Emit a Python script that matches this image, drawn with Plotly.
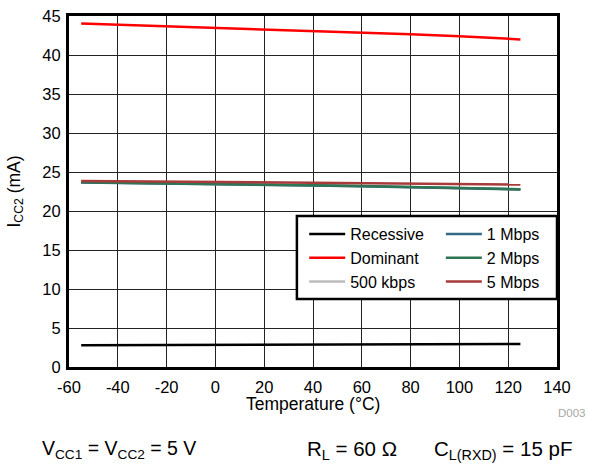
import plotly.graph_objects as go

temps = [-55, -40, -20, 0, 20, 40, 60, 80, 100, 125]
recessive = [2.80, 2.82, 2.84, 2.86, 2.88, 2.90, 2.91, 2.92, 2.93, 2.95]
dominant = [44.05, 43.9, 43.7, 43.5, 43.3, 43.1, 42.9, 42.65, 42.4, 42.0]
kbps500 = [23.68, 23.63, 23.56, 23.48, 23.38, 23.28, 23.18, 23.06, 22.93, 22.78]
mbps1 = [23.66, 23.61, 23.54, 23.46, 23.36, 23.26, 23.16, 23.04, 22.91, 22.76]
mbps2 = [23.70, 23.65, 23.58, 23.50, 23.40, 23.30, 23.20, 23.08, 22.95, 22.80]
mbps5 = [23.85, 23.82, 23.78, 23.72, 23.66, 23.60, 23.55, 23.50, 23.45, 23.40]

x_ticks = [-60, -40, -20, 0, 20, 40, 60, 80, 100, 120, 140]
x_tick_labels = ["-60", "-40", "-20", "0", "20", "40", "60", "80", "100", "120", "140"]
y_ticks = [0, 5, 10, 15, 20, 25, 30, 35, 40, 45]

FONT = "Liberation Sans, Arial, sans-serif"

series = [
    ("Recessive", recessive, "#000000", "legend", 1),
    ("Dominant", dominant, "#ff0000", "legend", 2),
    ("500 kbps", kbps500, "#bdbdbd", "legend", 3),
    ("1 Mbps", mbps1, "#336a88", "legend2", 1),
    ("2 Mbps", mbps2, "#2e7553", "legend2", 2),
    ("5 Mbps", mbps5, "#a83a3a", "legend2", 3),
]

fig = go.Figure()
for name, vals, color, leg, rank in series:
    fig.add_trace(go.Scatter(
        x=temps, y=vals, mode="lines", name=name,
        line=dict(color=color, width=2.5),
        legend=leg, legendrank=rank,
    ))

legend_common = dict(
    bgcolor="rgba(0,0,0,0)", borderwidth=0,
    font=dict(family=FONT, size=16, color="#000"),
    xanchor="left", yanchor="top", itemwidth=36,
    tracegroupgap=0,
)

fig.update_layout(
    width=589, height=468,
    margin=dict(l=69, r=32, t=16, b=101, autoexpand=False),
    paper_bgcolor="white", plot_bgcolor="white",
    font=dict(family=FONT, size=16, color="#000"),
    showlegend=True,
    legend=dict(x=0.482, y=0.427, **legend_common),
    legend2=dict(x=0.762, y=0.427, **legend_common),
    xaxis=dict(
        range=[-60, 140], tickvals=x_ticks, ticktext=x_tick_labels, ticks="",
        showgrid=True, gridcolor="#222", gridwidth=1, automargin=False,
        showline=True, linecolor="#000", linewidth=3, mirror=True,
        zeroline=False, ticklabelstandoff=3, ticklabeloverflow="allow",
        tickfont=dict(family=FONT, size=16.5, color="#000"),
    ),
    yaxis=dict(
        range=[0, 45], tickvals=y_ticks, ticks="",
        showgrid=True, gridcolor="#222", gridwidth=1, automargin=False,
        showline=True, linecolor="#000", linewidth=3, mirror=True,
        zeroline=False, ticklabelstandoff=2, ticklabeloverflow="allow",
        tickfont=dict(family=FONT, size=16.5, color="#000"),
        title=dict(text="I<sub>CC2</sub> (mA)", font=dict(family=FONT, size=17.5, color="#000"), standoff=18),
    ),
    shapes=[dict(
        type="rect", xref="paper", yref="paper",
        x0=0.467, x1=1.0, y0=0.194, y1=0.430,
        line=dict(color="#000", width=2.5), fillcolor="white", layer="above",
    )],
    annotations=[
        dict(text="Temperature (°C)", xref="paper", yref="paper", x=0.5, y=-0.1054,
             xanchor="center", yanchor="middle", showarrow=False,
             font=dict(family=FONT, size=17.5, color="#000")),
        dict(text="D003", xref="paper", yref="paper", x=1.0635, y=-0.131,
             xanchor="right", yanchor="middle", showarrow=False,
             font=dict(family=FONT, size=11.5, color="#a6a6a6")),
        dict(text="V<sub>CC1</sub> = V<sub>CC2</sub> = 5 V", xref="paper", yref="paper",
             x=-0.0594, y=-0.236, xanchor="left", yanchor="middle", showarrow=False,
             font=dict(family=FONT, size=19.5, color="#000")),
        dict(text="R<sub>L</sub> = 60 Ω", xref="paper", yref="paper",
             x=0.4836, y=-0.236, xanchor="left", yanchor="middle", showarrow=False,
             font=dict(family=FONT, size=20.5, color="#000")),
        dict(text="C<sub>L(RXD)</sub> = 15 pF", xref="paper", yref="paper",
             x=1.0348, y=-0.236, xanchor="right", yanchor="middle", showarrow=False,
             font=dict(family=FONT, size=20.5, color="#000")),
    ],
)

fig.write_html(
    "out.html",
    config={"displayModeBar": False},
    post_script="document.body.style.margin='0';document.body.style.overflow='hidden';",
)
